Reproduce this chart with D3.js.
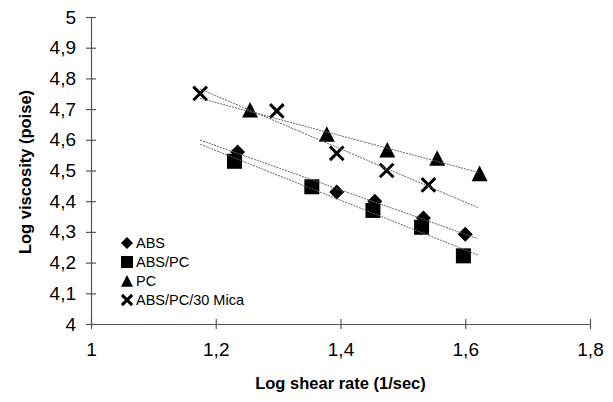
<!DOCTYPE html>
<html>
<head>
<meta charset="utf-8">
<script src="https://cdn.jsdelivr.net/npm/d3@7"></script>
<style>
  body { margin: 0; background: #fff; }
  svg { display: block; font-family: "Liberation Sans", Arial, sans-serif; }
</style>
</head>
<body>
<div id="chart"></div>
<script>
// data
const absX = [1.235, 1.394, 1.455, 1.533, 1.600];
const absY = [4.56, 4.43, 4.40, 4.345, 4.292];
const absPcX = [1.230, 1.354, 1.452, 1.530, 1.597];
const absPcY = [4.53, 4.447, 4.37, 4.315, 4.222];
const pcX = [1.255, 1.378, 1.475, 1.555, 1.623];
const pcY = [4.697, 4.618, 4.567, 4.54, 4.49];
const micaX = [1.175, 1.298, 1.394, 1.474, 1.541];
const micaY = [4.751, 4.694, 4.556, 4.50, 4.453];

const seriesNames = ["ABS", "ABS/PC", "PC", "ABS/PC/30 Mica"];
const xTicks = [1, 1.2, 1.4, 1.6, 1.8];
const yTicks = [4, 4.1, 4.2, 4.3, 4.4, 4.5, 4.6, 4.7, 4.8, 4.9, 5];

const W = 613, H = 402;
const margin = { top: 17, right: 23, bottom: 78, left: 91 };

const svg = d3.select("#chart").append("svg")
    .attr("width", W)
    .attr("height", H);

const x = d3.scaleLinear().domain([1, 1.8]).range([margin.left, W - margin.right]);
const y = d3.scaleLinear().domain([4, 5]).range([H - margin.bottom, margin.top]);

const fmt = d => String(d).replace(".", ",");

// axes
const xAxis = d3.axisBottom(x).tickValues(xTicks).tickFormat(fmt).tickSizeInner(5).tickSizeOuter(0).tickPadding(14);
const yAxis = d3.axisLeft(y).tickValues(yTicks).tickFormat(fmt).tickSizeInner(5).tickSizeOuter(0).tickPadding(10);

const gx = svg.append("g").attr("transform", `translate(0,${y(4)})`).call(xAxis);
const gy = svg.append("g").attr("transform", `translate(${x(1)},0)`).call(yAxis);

[gx, gy].forEach(g => {
  g.select(".domain").attr("stroke", "#555").attr("stroke-width", 1.2);
  g.selectAll(".tick line").attr("stroke", "#555").attr("stroke-width", 1.2);
  g.selectAll(".tick text")
    .attr("fill", "#000")
    .attr("font-family", "Liberation Sans, Arial, sans-serif")
    .attr("font-size", "19px");
});
// ticks cross the axis line
gx.selectAll(".tick line").attr("y1", -5).attr("y2", 5);
gy.selectAll(".tick line").attr("x1", -5).attr("x2", 5);

// axis titles
svg.append("text")
    .attr("x", (x(1) + x(1.8)) / 2)
    .attr("y", 389)
    .attr("text-anchor", "middle")
    .attr("font-size", "16.5px")
    .attr("font-weight", "bold")
    .text("Log shear rate (1/sec)");

svg.append("text")
    .attr("transform", "rotate(-90)")
    .attr("x", -172)
    .attr("y", 31)
    .attr("text-anchor", "middle")
    .attr("font-size", "16.5px")
    .attr("font-weight", "bold")
    .text("Log viscosity (poise)");

// marker shapes
function marker(g, type, s) {
  const h = s / 2;
  if (type === "diamond") {
    g.append("path").attr("d", `M0,${-h}L${h},0L0,${h}L${-h},0Z`).attr("fill", "#000");
  } else if (type === "square") {
    g.append("path").attr("d", `M${-h},${-h}H${h}V${h}H${-h}Z`).attr("fill", "#000");
  } else if (type === "triangle") {
    g.append("path").attr("d", `M0,${-h}L${h},${h * 0.95}L${-h},${h * 0.95}Z`).attr("fill", "#000");
  } else {
    const k = h * 0.85;
    g.append("path").attr("d", `M${-k},${-k}L${k},${k}M${k},${-k}L${-k},${k}`)
      .attr("stroke", "#000").attr("stroke-width", 3).attr("fill", "none");
  }
}

const series = [
  { name: seriesNames[0], xs: absX, ys: absY, type: "diamond", size: 15 },
  { name: seriesNames[1], xs: absPcX, ys: absPcY, type: "square", size: 15 },
  { name: seriesNames[2], xs: pcX, ys: pcY, type: "triangle", size: 16 },
  { name: seriesNames[3], xs: micaX, ys: micaY, type: "cross", size: 16 }
];

// points
series.forEach(s => {
  s.xs.forEach((xv, i) => {
    const g = svg.append("g").attr("transform", `translate(${x(xv)},${y(s.ys[i])})`);
    marker(g, s.type, s.size);
  });
});

// linear trendlines over the full x-range of the data
const allX = [].concat(absX, absPcX, pcX, micaX);
const xMin = d3.min(allX), xMax = 1.62;
series.forEach(s => {
  const mx = d3.mean(s.xs), my = d3.mean(s.ys);
  const b = d3.sum(s.xs, (v, i) => (v - mx) * (s.ys[i] - my)) / d3.sum(s.xs, v => (v - mx) * (v - mx));
  const a = my - b * mx;
  svg.append("line")
    .attr("x1", x(xMin)).attr("y1", y(a + b * xMin))
    .attr("x2", x(xMax)).attr("y2", y(a + b * xMax))
    .attr("stroke", "#666")
    .attr("stroke-width", 1)
    .attr("stroke-dasharray", "2,1");
});

// legend
const legend = svg.append("g").attr("transform", "translate(127,243)");
series.forEach((s, i) => {
  const row = legend.append("g").attr("transform", `translate(0,${i * 19})`);
  marker(row, s.type, 12);
  row.append("text")
    .attr("x", 9)
    .attr("y", 5)
    .attr("font-size", "14.5px")
    .text(s.name);
});
</script>
</body>
</html>
